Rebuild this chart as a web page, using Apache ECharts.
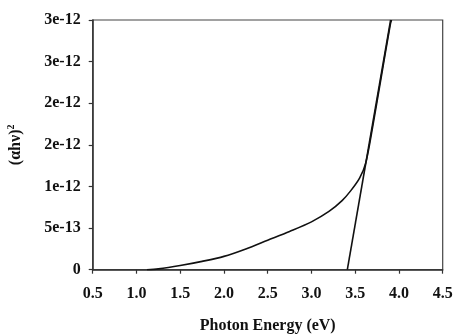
<!DOCTYPE html>
<html>
<head>
<meta charset="utf-8">
<script src="https://cdn.jsdelivr.net/npm/echarts@6/dist/echarts.min.js"></script>
<style>html,body{margin:0;padding:0;background:#fff}#c{width:454px;height:334px}</style>
</head>
<body>
<div id="c"></div>
<script>
// Data (y values in units of 1e-12)
var curveX = [1.12, 1.25, 1.5, 1.75, 2.0, 2.25, 2.5, 2.75, 3.0, 3.2, 3.35, 3.45, 3.55, 3.62, 3.7, 3.8, 3.9, 3.915];
var curveY = [0, 0.01, 0.05, 0.10, 0.16, 0.25, 0.355, 0.46, 0.575, 0.70, 0.83, 0.95, 1.10, 1.28, 1.72, 2.33, 2.94, 3.0];
var tangentX = [3.41, 3.905];
var tangentY = [0, 3.0];
var yTickLabels = ['0', '5e-13', '1e-12', '2e-12', '2e-12', '3e-12', '3e-12'];
var xTickLabels = ['0.5', '1.0', '1.5', '2.0', '2.5', '3.0', '3.5', '4.0', '4.5'];

function pairs(xs, ys) { return xs.map(function (x, i) { return [x, ys[i]]; }); }

var font = {fontFamily: 'Liberation Serif', fontWeight: 'bold', fontSize: 16, color: '#111'};
var chart = echarts.init(document.getElementById('c'));
chart.setOption({
  animation: false,
  grid: {left: 92.7, right: 11.3, top: 20, bottom: 64.3, containLabel: false, outerBoundsMode: 'none',
         show: true, borderColor: '#444', borderWidth: 1.2},
  xAxis: {
    type: 'value', min: 0.5, max: 4.5, interval: 0.5,
    name: 'Photon Energy (eV)', nameLocation: 'middle', nameGap: 48,
    nameTextStyle: font,
    axisLine: {show: true, onZero: false, lineStyle: {color: '#333', width: 1.5}},
    axisTick: {show: true, length: 4, lineStyle: {color: '#333', width: 1.2}},
    axisLabel: Object.assign({margin: 16, formatter: function (v) {
      var i = Math.round((v - 0.5) / 0.5); return xTickLabels[i] || ''; }}, font),
    splitLine: {show: false}
  },
  yAxis: {
    type: 'value', min: 0, max: 3, interval: 0.5,
    name: '(αhν){sup|2}', nameLocation: 'middle', nameGap: 68, nameRotate: 90,
    nameTextStyle: Object.assign({rich: {sup: {fontFamily: 'Liberation Serif', fontWeight: 'bold', fontSize: 10, verticalAlign: 'top', padding: [0, 0, 8, 0], color: '#111'}}}, font),
    axisLine: {show: true, lineStyle: {color: '#333', width: 1.5}},
    axisTick: {show: true, length: 4, lineStyle: {color: '#333', width: 1.2}},
    axisLabel: Object.assign({margin: 12, formatter: function (v) {
      var i = Math.round(v / 0.5); return yTickLabels[i] || ''; }}, font),
    splitLine: {show: false}
  },
  series: [
    {type: 'line', data: pairs(curveX, curveY), smooth: 0.3, symbol: 'none',
     lineStyle: {color: '#111', width: 1.6}},
    {type: 'line', data: pairs(tangentX, tangentY), symbol: 'none',
     lineStyle: {color: '#111', width: 1.6}}
  ]
});
</script>
</body>
</html>
